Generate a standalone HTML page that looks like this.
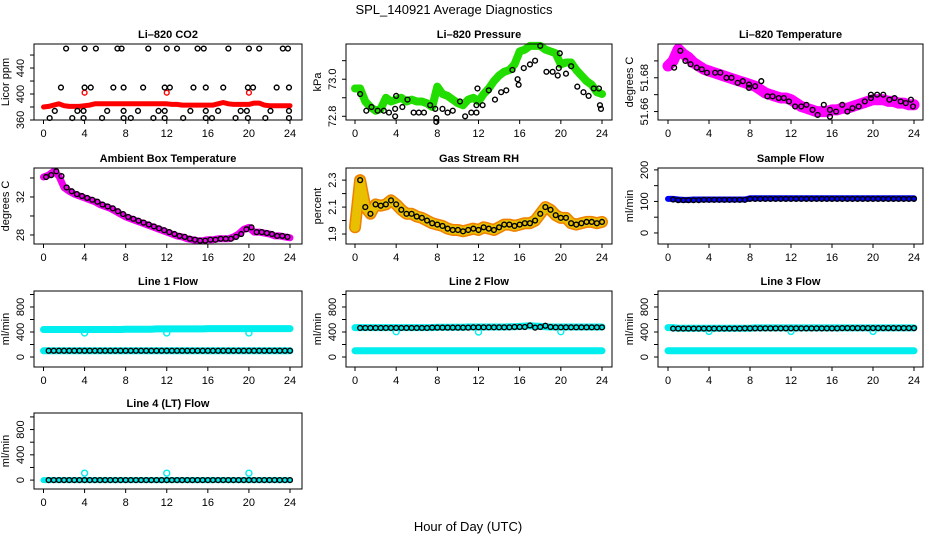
<!DOCTYPE html>
<html><head><meta charset="utf-8">
<style>
html,body{margin:0;padding:0;background:#fff;}
svg{display:block;font-family:"Liberation Sans",sans-serif;}
</style></head>
<body>
<svg id="chart" width="936" height="540" viewBox="0 0 936 540" xmlns="http://www.w3.org/2000/svg">
<rect width="936" height="540" fill="#fff"/>
<text x="454" y="14" font-size="13" text-anchor="middle">SPL_140921  Average Diagnostics</text>
<text x="468" y="531" font-size="13" text-anchor="middle">Hour of Day (UTC)</text>
</svg>
<script>
const gridHours=[0,0.5,1,1.5,2,2.5,3,3.5,4,4.5,5,5.5,6,6.5,7,7.5,8,8.5,9,9.5,10,10.5,11,11.5,12,12.5,13,13.5,14,14.5,15,15.5,16,16.5,17,17.5,18,18.5,19,19.5,20,20.5,21,21.5,22,22.5,23,23.5,24];
const xTicks=[0,4,8,12,16,20,24];

// CO2
const co2Red=[380,381,383,385,382,381,381,381,382,383,385,385,385,385,385,385,385,385,385,385,385,385,385,385,385,384,384,383,383,383,383,383,383,383,385,387,385,384,384,384,384,386,386,383,382,382,382,382,382];
const co2RedPtsT=[4,12,20];
const co2RedPtsV=[402,402,402];
const co2BlackT=[2.2,4,5.1,7.2,7.6,10.2,12,13,15,15.6,18,20,21,23.3,23.8,1.7,4,4.6,6.8,7.8,9.7,11.8,12.3,14.6,15.8,17.5,19.9,20.4,22.7,23.9,1.1,3.3,3.9,6.2,7.8,9.2,11.2,11.8,14.3,15.8,17,19.2,19.8,22.1,23.9,0.6,2.8,3.9,5.7,7.8,8.5,10.7,11.8,13.6,15.8,16.4,18.7,19.9,21.6,23.9];
const co2BlackV=[470,470,470,470,470,470,470,470,470,470,470,470,470,470,470,410,410,410,410,410,410,410,410,410,410,410,410,410,410,410,374,374,374,374,374,374,374,374,374,374,374,374,374,374,374,363,363,363,363,363,363,363,363,363,363,363,363,363,363,363];

// Pressure
const presGreen=[72.95,72.95,72.88,72.85,72.83,72.84,72.90,72.88,72.89,72.90,72.88,72.89,72.88,72.88,72.87,72.85,72.96,72.92,72.91,72.89,72.87,72.86,72.89,72.90,72.88,72.92,72.95,72.99,73.02,73.04,73.05,73.08,73.15,73.16,73.18,73.18,73.18,73.16,73.15,73.14,73.08,73.09,73.09,73.05,73.02,72.99,72.97,72.93,72.92];
const presBlackT=[0.5,1.1,1.6,2.2,2.8,3.3,3.9,3.9,4,4.6,5.1,5.7,6.2,6.7,7.3,7.8,7.9,7.9,8.5,9,9.5,10.2,10.7,11.3,11.8,11.8,11.9,12.4,13,13.6,14.2,14.7,15.3,15.8,15.9,16.4,17,17.5,18,18.6,19.2,19.7,19.8,19.9,20.5,21,21.6,22.2,22.7,23.2,23.7,23.8,23.9];
const presBlackV=[72.92,72.83,72.85,72.83,72.83,72.82,72.80,72.84,72.91,72.85,72.89,72.82,72.82,72.82,72.86,72.84,72.79,72.77,72.84,72.82,72.83,72.88,72.80,72.82,72.82,72.86,72.95,72.86,72.94,72.89,72.93,72.94,73.05,73.00,72.97,73.06,73.08,73.10,73.18,73.04,73.04,73.02,73.06,73.14,73.03,73.07,72.96,72.93,72.91,72.95,72.95,72.86,72.84];

// Li-820 temperature
const tempMag=[51.687,51.690,51.697,51.694,51.692,51.689,51.687,51.685,51.684,51.683,51.682,51.681,51.680,51.679,51.678,51.677,51.676,51.675,51.673,51.671,51.670,51.669,51.668,51.668,51.667,51.665,51.663,51.662,51.661,51.660,51.660,51.660,51.661,51.661,51.662,51.662,51.663,51.664,51.665,51.666,51.667,51.667,51.667,51.666,51.666,51.665,51.665,51.664,51.664];
const tempBlackT=[0.6,1.2,1.7,2.2,2.8,3.3,3.8,4.6,5.1,5.7,6.2,6.8,7.3,7.9,7.9,8.5,9.1,9.7,10.2,10.8,11.3,11.8,12.4,13,13.5,14.1,14.6,15.2,15.8,15.8,16.4,17,17.5,18,18.6,19.2,19.8,19.8,20.4,21,21.6,22.1,22.7,23.2,23.7,23.9];
const tempBlackV=[51.686,51.696,51.690,51.688,51.686,51.685,51.683,51.683,51.683,51.680,51.680,51.677,51.678,51.674,51.676,51.675,51.678,51.669,51.669,51.668,51.668,51.666,51.663,51.663,51.664,51.661,51.658,51.664,51.661,51.657,51.660,51.664,51.660,51.662,51.663,51.666,51.668,51.670,51.670,51.670,51.667,51.668,51.666,51.665,51.667,51.663];

// Ambient box temperature
const ambient=[34.1,34.3,34.7,34.2,33.0,32.6,32.3,32.1,31.9,31.7,31.5,31.2,31.0,30.8,30.5,30.2,29.9,29.7,29.5,29.3,29.1,28.9,28.7,28.5,28.3,28.1,27.9,27.8,27.6,27.5,27.4,27.4,27.5,27.5,27.6,27.6,27.6,27.8,28.1,28.6,28.8,28.3,28.3,28.2,28.1,27.9,27.9,27.8,27.7];

// Gas stream RH
const rh=[1.95,2.30,2.10,2.05,2.12,2.11,2.12,2.15,2.12,2.08,2.05,2.05,2.03,2.02,2.00,1.98,1.97,1.96,1.94,1.93,1.93,1.92,1.93,1.94,1.93,1.95,1.94,1.93,1.95,1.97,1.97,1.96,1.97,1.98,1.98,2.00,2.05,2.10,2.08,2.04,2.02,2.02,1.98,1.97,1.98,1.99,1.99,1.98,1.99];

// Sample flow
const sampleBlue=[108,108,106,105,105,106,106,106,106,106,106,106,106,106,106,106,110,110,110,110,110,110,110,110,110,110,110,110,110,110,110,110,110,110,110,110,110,110,110,110,110,110,110,110,110,110,110,110,110];
const sampleBlack=[106,106,104,104,104,104,104,105,105,105,105,105,105,105,105,105,108,108,108,108,108,108,108,108,108,108,108,108,108,108,108,108,108,108,108,108,108,108,108,108,108,108,108,108,108,108,108,108,108];

// Line flows
const l1Upper=[440,440,440,440,440,440,440,440,440,440,440,440,440,440,440,440,445,445,445,445,445,445,450,450,450,450,450,450,450,450,450,450,455,455,455,455,455,455,455,455,455,455,455,455,455,455,455,455,455];
const lowerCyan=[100,100,100,100,100,100,100,100,100,100,100,100,100,100,100,100,100,100,100,100,100,100,100,100,100,100,100,100,100,100,100,100,100,100,100,100,100,100,100,100,100,100,100,100,100,100,100,100,100];
const l1Black=[100,100,100,100,100,100,100,100,100,100,100,100,100,100,100,100,100,100,100,100,100,100,100,100,100,100,100,100,100,100,100,100,100,100,100,100,100,100,100,100,100,100,100,100,100,100,100,100,100];
const dipT=[4,12,20];
const l1Dip=[385,385,385];
const l2Upper=[470,470,470,470,470,470,470,470,470,470,470,470,470,470,470,470,475,475,475,475,475,475,480,480,480,480,480,480,480,480,485,485,490,495,500,495,490,485,480,480,480,480,480,480,480,480,480,480,480];
const l2Black=[465,465,465,465,465,465,465,465,465,465,465,465,465,465,465,470,470,470,470,470,470,470,470,475,475,475,475,475,475,475,475,480,480,480,505,470,480,500,480,475,475,475,475,475,475,475,475,475,475];
const l2Dip=[405,400,405];
const l3Upper=[470,470,460,460,460,460,460,460,460,460,460,460,460,460,460,460,460,465,465,465,465,465,465,465,465,465,465,465,465,465,465,465,465,465,465,465,465,465,465,465,465,465,465,465,465,465,465,465,465];
const l3Black=[455,455,455,455,455,455,455,455,455,455,455,455,455,455,455,458,458,458,458,458,458,458,458,458,458,458,458,458,458,458,458,458,458,458,462,462,462,462,462,462,462,462,462,462,462,462,462,462,462];
const l3Dip=[410,410,410];
const l4Cyan=[0,0,0,0,0,0,0,0,0,0,0,0,0,0,0,0,0,0,0,0,0,0,0,0,0,0,0,0,0,0,0,0,0,0,0,0,0,0,0,0,0,0,0,0,0,0,0,0,0];
const l4Black=[0,0,0,0,0,0,0,0,0,0,0,0,0,0,0,0,0,0,0,0,0,0,0,0,0,0,0,0,0,0,0,0,0,0,0,0,0,0,0,0,0,0,0,0,0,0,0,0,0];
const l4Spike=[110,110,110];

const NS="http://www.w3.org/2000/svg";
const svg=document.getElementById('chart');
const cols=[{bx0:34,bx1:302,x0:43.5,x24:290},{bx0:346,bx1:612,x0:355,x24:602},{bx0:658,bx1:923,x0:668,x24:914}];
const rows=[{y0:44,y1:120},{y0:168,y1:244},{y0:291,y1:367},{y0:413,y1:489}];

function mk(tag,attrs,parent){const e=document.createElementNS(NS,tag);for(const k in attrs)e.setAttribute(k,attrs[k]);(parent||svg).appendChild(e);return e;}

function makePanel(name,title,ylab,col,row,ylim,yticks,ylabels){
  const c=cols[col],r=rows[row];
  const g=mk('g',{});
  
  
  const sx=t=>c.x0+(c.x24-c.x0)*t/24;
  const sy=v=>r.y1-(v-ylim[0])/(ylim[1]-ylim[0])*(r.y1-r.y0);
  const plot=mk('g',{},g);
  
  
  const box=mk('rect',{x:c.bx0,y:r.y0,width:c.bx1-c.bx0,height:r.y1-r.y0,fill:'none',stroke:'#000','stroke-width':1},g);
  
  
  const t=mk('text',{x:(c.bx0+c.bx1)/2,y:r.y0-6,'font-size':11,'font-weight':'bold','text-anchor':'middle'},g);
  t.textContent=title;
  
  
  const yl=mk('text',{x:0,y:0,'font-size':11,'text-anchor':'middle',transform:`translate(${c.bx0-25},${(r.y0+r.y1)/2}) rotate(-90)`},g);
  yl.textContent=ylab;
  
  
  xTicks.forEach(v=>{
    mk('line',{x1:sx(v),x2:sx(v),y1:r.y1,y2:r.y1+4,stroke:'#000'},g);
    const l=mk('text',{x:sx(v),y:r.y1+17,'font-size':11,'text-anchor':'middle'},g);
    l.textContent=v;
    
    
  });
  yticks.forEach(v=>{
    mk('line',{x1:c.bx0-4,x2:c.bx0,y1:sy(v),y2:sy(v),stroke:'#000'},g);
  });
  ylabels.forEach(v=>{
    const l=mk('text',{x:0,y:0,'font-size':11,'text-anchor':'middle',transform:`translate(${c.bx0-10},${sy(v)}) rotate(-90)`},g);
    l.textContent=v;
    
    
  });
  return {plot,sx,sy,name,clip:[c.bx0,r.y0,c.bx1,r.y1]};
}
function band(p,ts,vs,color,w,nm,dash){
  const pts=ts.map((t,i)=>p.sx(t).toFixed(1)+','+Math.min(Math.max(p.sy(vs[i]),p.clip[1]),p.clip[3]).toFixed(1)).join(' ');
  const a={points:pts,fill:'none',stroke:color,'stroke-width':w,'stroke-linejoin':'round','stroke-linecap':'round'};
  if(dash)a['stroke-dasharray']=dash;
  const e=mk('polyline',a,p.plot);
  
  
}
function pts(p,ts,vs,color,nm,rad){
  ts.forEach((t,i)=>{
    const e=mk('circle',{cx:p.sx(t),cy:p.sy(vs[i]),r:rad||2.4,fill:'none',stroke:color,'stroke-width':1.4},p.plot);
    
    
  });
}
const half=gridHours.slice(1);

let p=makePanel('co2','Li\u2013820 CO2','Licor ppm',0,0,[360,477],[360,380,400,420,440,460],[360,400,440]);
band(p,gridHours,co2Red,'#ff0000',5,'co2-red-series');
pts(p,co2RedPtsT,co2RedPtsV,'#ff0000','co2-red-point');
pts(p,co2BlackT,co2BlackV,'#000','co2-black-point');

p=makePanel('pressure','Li\u2013820 Pressure','kPa',1,0,[72.78,73.19],[72.8,72.9,73.0,73.1],['72.8','73.0']);
band(p,gridHours,presGreen,'#22dd00',8,'pressure-green-series');
pts(p,presBlackT,presBlackV,'#000','pressure-black-point');

p=makePanel('li820-temp','Li\u2013820 Temperature','degrees C',2,0,[51.655,51.7],[51.66,51.67,51.68,51.69],['51.66','51.68']);
band(p,gridHours,tempMag,'#ff00ff',11,'temp-magenta-series');
pts(p,tempBlackT,tempBlackV,'#000','temp-black-point');

p=makePanel('ambient','Ambient Box Temperature','degrees C',0,1,[27.05,35.05],[28,30,32,34],[28,32]);
band(p,gridHours,ambient,'#ee00ee',7,'ambient-magenta-series');
pts(p,gridHours.map(t=>t+0.25).slice(0,48),ambient.slice(0,48),'#000','ambient-black-point');

p=makePanel('rh','Gas Stream RH','percent',1,1,[1.826,2.39],[1.9,2.0,2.1,2.2,2.3],['1.9','2.1','2.3']);
band(p,gridHours,rh,'#f08000',12,'rh-orange-series');
band(p,gridHours,rh,'#e8c000',9,'rh-yellow-series','2 2');
pts(p,half,rh.slice(1),'#000','rh-black-point');

p=makePanel('sample-flow','Sample Flow','ml/min',2,1,[-35,206],[0,50,100,150,200],[0,100,200]);
band(p,gridHours,sampleBlue,'#0000ff',6,'sample-blue-series');
pts(p,half,sampleBlack.slice(1),'#000','sample-black-point');

const flowTicks=[0,200,400,600,800,1000],flowLabels=[0,400,800];
p=makePanel('line1','Line 1 Flow','ml/min',0,2,[-160,1056],flowTicks,flowLabels);
band(p,gridHours,l1Upper,'#00eeee',7,'line1-cyan-upper');
band(p,gridHours,lowerCyan,'#00eeee',7,'line1-cyan-lower');
pts(p,dipT,l1Dip,'#00eeee','line1-cyan-point',3);
pts(p,half,l1Black.slice(1),'#000','line1-black-point');

p=makePanel('line2','Line 2 Flow','ml/min',1,2,[-160,1056],flowTicks,flowLabels);
band(p,gridHours,l2Upper,'#00eeee',7,'line2-cyan-upper');
band(p,gridHours,lowerCyan,'#00eeee',7,'line2-cyan-lower');
pts(p,dipT,l2Dip,'#00eeee','line2-cyan-point',3);
pts(p,half,l2Black.slice(1),'#000','line2-black-point');

p=makePanel('line3','Line 3 Flow','ml/min',2,2,[-160,1056],flowTicks,flowLabels);
band(p,gridHours,l3Upper,'#00eeee',7,'line3-cyan-upper');
band(p,gridHours,lowerCyan,'#00eeee',7,'line3-cyan-lower');
pts(p,dipT,l3Dip,'#00eeee','line3-cyan-point',3);
pts(p,half,l3Black.slice(1),'#000','line3-black-point');

p=makePanel('line4','Line 4 (LT) Flow','ml/min',0,3,[-141,1062],flowTicks,flowLabels);
band(p,gridHours,l4Cyan,'#00eeee',6,'line4-cyan-series');
pts(p,dipT,l4Spike,'#00eeee','line4-cyan-point',3);
pts(p,half,l4Black.slice(1),'#000','line4-black-point');
</script>
</body></html>
